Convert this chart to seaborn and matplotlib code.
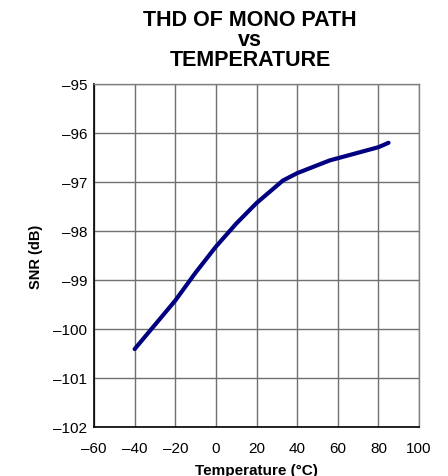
import matplotlib
matplotlib.use("Agg")
import matplotlib.pyplot as plt
import seaborn as sns
import pandas as pd

temperature = [-40, -20, -10, 0, 10, 20, 33, 40, 56, 80, 85]
snr_db = [-100.41, -99.42, -98.85, -98.32, -97.85, -97.43, -96.97, -96.82, -96.56, -96.29, -96.2]
x_ticks = [-60, -40, -20, 0, 20, 40, 60, 80, 100]
y_ticks = [-95, -96, -97, -98, -99, -100, -101, -102]

sns.set_style("white")
plt.rcParams['font.family'] = ['Liberation Sans', 'DejaVu Sans']
plt.rcParams['text.color'] = 'black'
plt.rcParams['axes.labelcolor'] = 'black'
plt.rcParams['xtick.color'] = 'black'
plt.rcParams['ytick.color'] = 'black'

df = pd.DataFrame({"Temperature": temperature, "SNR": snr_db})

fig = plt.figure(figsize=(4.48, 4.77), dpi=100)
ax = fig.add_axes([94/448, 1-428/477, (419-94)/448, (428-85)/477])

sns.lineplot(data=df, x="Temperature", y="SNR", ax=ax, color="#000080",
             linewidth=3.0, solid_capstyle="round", sort=False)

ax.set_xlim(-60, 100)
ax.set_ylim(-102, -95)
ax.set_xticks(x_ticks)
ax.set_yticks(y_ticks)
ax.set_xticklabels([f"{v}".replace("-", "\u2013") for v in x_ticks], fontsize=11)
ax.set_yticklabels([f"{v}".replace("-", "\u2013") for v in y_ticks], fontsize=11)

ax.grid(True, color="#707070", linewidth=1.0)
ax.set_axisbelow(True)
for s in ["top", "right"]:
    ax.spines[s].set_color("#808080")
    ax.spines[s].set_linewidth(1.0)
for s in ["left", "bottom"]:
    ax.spines[s].set_color("black")
    ax.spines[s].set_linewidth(1.2)

ax.tick_params(axis="both", direction="out", length=3, width=1, color="black")
ax.tick_params(axis="x", pad=7)
ax.tick_params(axis="y", pad=2)

ax.set_xlabel("Temperature (\u00b0C)", fontsize=11, fontweight="bold", labelpad=6)
ax.set_ylabel("SNR (dB)", fontsize=10.5, fontweight="bold", labelpad=7)

fig.text(0.558, 0.978, "THD OF MONO PATH\nvs\nTEMPERATURE", ha="center", va="top",
         fontsize=15.5, fontweight="bold", linespacing=0.93)

fig.savefig("out.png", dpi=100)
